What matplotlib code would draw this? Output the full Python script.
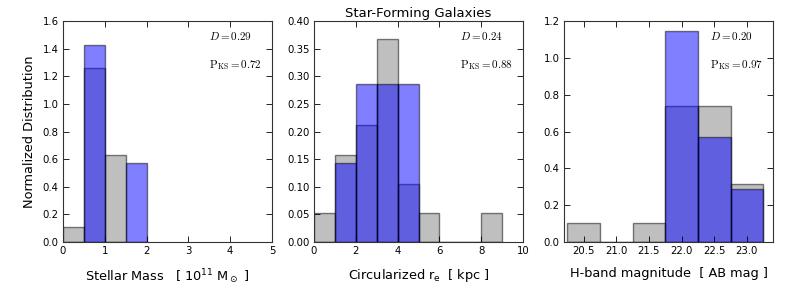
import matplotlib
matplotlib.use("Agg")
import matplotlib.pyplot as plt
import numpy as np

# Panel 1: stellar mass (bin width 0.5)
mass_edges = [0.0, 0.5, 1.0, 1.5, 2.0]
mass_all = [0.105, 1.263, 0.632, 0.0]
mass_sf = [0.0, 1.429, 0.0, 0.571]

# Panel 2: circularized r_e (bin width 1)
re_edges = [0, 1, 2, 3, 4, 5, 6, 7, 8, 9]
re_all = [0.0526, 0.158, 0.211, 0.368, 0.105, 0.0526, 0.0, 0.0, 0.0526]
re_sf = [0.0, 0.143, 0.286, 0.286, 0.286, 0.0, 0.0, 0.0, 0.0]

# Panel 3: H-band magnitude (bin width 0.5)
h_edges = [20.25, 20.75, 21.25, 21.75, 22.25, 22.75, 23.25]
h_all = [0.105, 0.0, 0.105, 0.737, 0.737, 0.316]
h_sf = [0.0, 0.0, 0.0, 1.143, 0.571, 0.286]

D_vals = ["0.29", "0.24", "0.20"]
P_vals = ["0.72", "0.88", "0.97"]

xlabels = [r"Stellar Mass   [ $10^{11}$ M$_\odot$ ]",
           r"Circularized r$_{\rm e}$  [ kpc ]",
           r"H-band magnitude  [ AB mag ]"]

fig = plt.figure(figsize=(7.97, 2.99), dpi=100)
lefts = [63, 314, 564]
width = 209
bottom, top = 242, 21
axes = []
for l in lefts:
    ax = fig.add_axes([l / 797, 1 - bottom / 299, width / 797, (bottom - top) / 299])
    axes.append(ax)

datasets = [(mass_edges, mass_all, mass_sf), (re_edges, re_all, re_sf), (h_edges, h_all, h_sf)]
for ax, (edges, a, s) in zip(axes, datasets):
    e = np.array(edges, dtype=float)
    w = np.diff(e)
    ax.bar(e[:-1], a, width=w, align="edge", color="gray", alpha=0.5,
           edgecolor="black", linewidth=1.0)
    ax.bar(e[:-1], s, width=w, align="edge", color="blue", alpha=0.5,
           edgecolor="black", linewidth=1.0)

axes[0].set_xlim(0, 5)
axes[0].set_ylim(0, 1.6)
axes[0].set_xticks([0, 1, 2, 3, 4, 5])
axes[0].set_yticks(np.arange(0, 1.61, 0.2))
axes[1].set_xlim(0, 10)
axes[1].set_ylim(0, 0.40)
axes[1].set_xticks([0, 2, 4, 6, 8, 10])
axes[1].set_yticks(np.arange(0, 0.401, 0.05))
axes[2].set_xlim(20.2, 23.4)
axes[2].set_ylim(0, 1.2)
axes[2].set_xticks([20.5, 21.0, 21.5, 22.0, 22.5, 23.0])
axes[2].set_yticks(np.arange(0, 1.21, 0.2))

axes[0].yaxis.set_major_formatter(matplotlib.ticker.FormatStrFormatter("%.1f"))
axes[1].yaxis.set_major_formatter(matplotlib.ticker.FormatStrFormatter("%.2f"))
axes[2].yaxis.set_major_formatter(matplotlib.ticker.FormatStrFormatter("%.1f"))
axes[2].xaxis.set_major_formatter(matplotlib.ticker.FormatStrFormatter("%.1f"))

for i, ax in enumerate(axes):
    ax.tick_params(direction="in", top=True, right=True, labelsize=7.3, length=4,
                   width=0.6, pad=3)
    for sp in ax.spines.values():
        sp.set_linewidth(0.8)
        sp.set_color("#333333")
    ax.set_xlabel(xlabels[i], fontsize=9.3, labelpad=8)
    ax.text(0.70, 0.93, r"$D=%s$" % D_vals[i], transform=ax.transAxes,
            fontsize=8, math_fontfamily="cm", va="center")
    ax.text(0.70, 0.80, r"$\rm P_{KS}=%s$" % P_vals[i], transform=ax.transAxes,
            fontsize=8, math_fontfamily="cm", va="center")

axes[0].set_ylabel("Normalized Distribution", fontsize=9.3, labelpad=5)
axes[1].set_title("Star-Forming Galaxies", fontsize=9.5, pad=3)

fig.savefig("out.png", dpi=100)
